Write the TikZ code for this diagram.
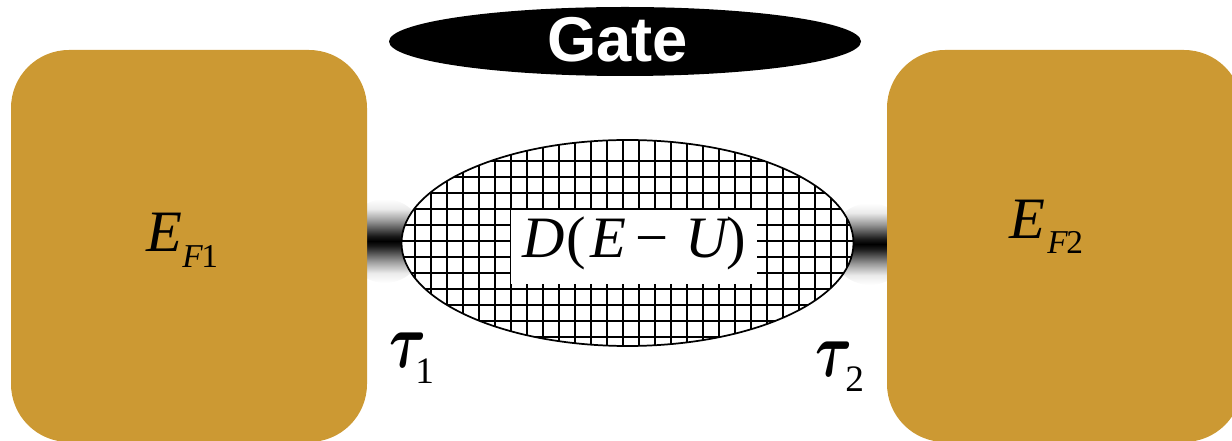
\documentclass[tikz,border=0pt]{standalone}
\usepackage{graphicx}
\usepackage{fontspec}
\setmainfont{Liberation Serif}
\newfontfamily\gatefont{Liberation Sans}
\usetikzlibrary{shapes.geometric}
\definecolor{padcolor}{RGB}{204,153,51}
\pgfdeclareverticalshading{leadshade}{100bp}{color(0bp)=(white); color(25bp)=(white); color(31bp)=(black!8); color(38bp)=(black!40); color(47bp)=(black!90); color(50bp)=(black); color(53bp)=(black!90); color(62bp)=(black!40); color(69bp)=(black!8); color(75bp)=(white); color(100bp)=(white)}
\newcommand{\bigtau}{\scalebox{1.7}[2.35]{\fontsize{24.88}{24.88}\selectfont\boldmath$\tau$}\kern-6pt}
\tikzset{
  x=0.75pt,y=-0.75pt,
  pad/.style={fill=padcolor,draw=none},
  gridline/.style={line width=1pt,black},
  bigit/.style={font=\itshape\fontsize{44}{44}\selectfont,inner sep=0pt,anchor=base west},
  subit/.style={font=\itshape\fontsize{25}{25}\selectfont,inner sep=0pt,anchor=base west},
  taulabel/.style={inner sep=0pt,anchor=base west},
  taunum/.style={font=\fontsize{28}{28}\selectfont,inner sep=0pt,anchor=base west},
}
\begin{document}
\begin{tikzpicture}
\useasboundingbox (0,0) rectangle (1232,441);
\clip (0,0) rectangle (1232,441);
% tunnel couplings
\begin{scope}
\clip (385,241) ellipse [x radius=40,y radius=42];
\shade[shading=leadshade] (340,199) rectangle (430,283);
\end{scope}
\begin{scope}
\clip (870,244) ellipse [x radius=40,y radius=41];
\shade[shading=leadshade] (825,203) rectangle (915,285);
\end{scope}
% pads
\fill[pad] (11,108) arc[start angle=180,end angle=90,radius=43.5pt] -- (309,50) arc[start angle=90,end angle=0,radius=43.5pt] -- (367,384) arc[start angle=0,end angle=-90,radius=43.5pt] -- (69,442) arc[start angle=-90,end angle=-180,radius=43.5pt] -- cycle;
\fill[pad] (887,108) arc[start angle=180,end angle=90,radius=43.5pt] -- (1184,50) arc[start angle=90,end angle=0,radius=43.5pt] -- (1242,384) arc[start angle=0,end angle=-90,radius=43.5pt] -- (945,442) arc[start angle=-90,end angle=-180,radius=43.5pt] -- cycle;
% dot
\node[ellipse,draw=none,fill=white,minimum width=339pt,minimum height=154.5pt,inner sep=0pt] (dot) at (627.5,243) {};
\begin{scope}
\clip (627.5,243) ellipse [x radius=226,y radius=103];
\foreach \gx in {415,431,...,847} \draw[gridline] (\gx,130) -- (\gx,356);
\foreach \gy in {161,177,...,337} \draw[gridline] (390,\gy) -- (870,\gy);
\end{scope}
\node[fill=white,inner sep=0pt,minimum width=184.5pt,minimum height=55.5pt] (window) at (634,247) {};
\draw[line width=1.3pt] (627.5,243) ellipse [x radius=226,y radius=103];
\node[bigit] (dos) at (522,258) {D\kern1.5pt\textup{(}\kern3pt E\kern7pt\textup{−}\kern13pt U\kern-1pt\textup{)}};
% gate
\node[ellipse,fill=black,minimum width=354pt,minimum height=51.75pt,inner sep=0pt] (gate) at (625,41.5) {};
\node[font=\gatefont\bfseries\fontsize{47.5}{47.5}\selectfont,text=white,inner sep=0pt,anchor=base west] (gatelabel) at (547,61.5) {Gate};
% labels
\node[bigit] (ef1) at (146,252) {E};
\node[subit] (f1) at (182,268) {F\kern-1pt\textup{1}};
\node[bigit] (ef2) at (1009,239) {E};
\node[subit] (f2) at (1047,254) {F\kern-1pt\textup{2}};
\node[taulabel] (t1) at (389,368) {\bigtau};
\node[taunum] (t1s) at (415,384) {1};
\node[taulabel] (t2) at (815,377) {\bigtau};
\node[taunum] (t2s) at (845,392) {2};
\end{tikzpicture}
\end{document}
